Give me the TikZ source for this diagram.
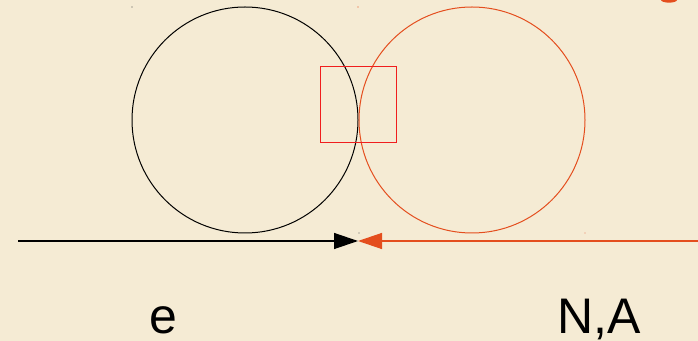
\documentclass[tikz,border=0pt]{standalone}
\usepackage{xcolor}
\usepackage{fontspec}
\setmainfont{Liberation Sans}
\usepackage{tikz}
\usetikzlibrary{arrows.meta}

\definecolor{paper}{RGB}{245,235,212}
\definecolor{rust}{RGB}{228,78,30}
\definecolor{boxred}{RGB}{240,30,30}

\begin{document}
\begin{tikzpicture}[x=0.75pt,y=-0.75pt,
  ring/.style={line width=0.75pt},
  beam/.style={line width=1pt},
  tip/.style={-{Triangle[length=18pt,width=12pt]}},
  lbl/.style={anchor=base,inner sep=0pt,font=\fontsize{37.5}{40}\selectfont}]
\fill[paper] (0,0) rectangle (698,341);
\useasboundingbox (0,0) rectangle (698,341);
\begin{scope}
\clip (0,0) rectangle (698,341);
\fill[rust] (669,0) ellipse (6pt and 2pt);
\end{scope}
% the two circles
\draw[ring,black] (245,120) circle (84.75pt);
\draw[ring,rust] (472,120) circle (84.75pt);
\draw[ring,boxred] (320,67) rectangle (396,143);
% corner marks
\fill[black!70] (132,7) circle (0.5pt);
\fill[rust] (358,7) circle (0.5pt);
\fill[black!60] (359,233) circle (0.5pt);
\fill[rust!70] (585,233) circle (0.5pt);
% beams
\coordinate (left) at (18,241);
\coordinate (right) at (698,241);
\coordinate (meet) at (358,241);
\draw[beam,black,tip] (left) -- (meet);
\draw[beam,rust,tip] (right) -- (meet);
\node[lbl] (e) at (163,334) {e};
\node[lbl] (na) at (599,334) {N,A};
\end{tikzpicture}
\end{document}
